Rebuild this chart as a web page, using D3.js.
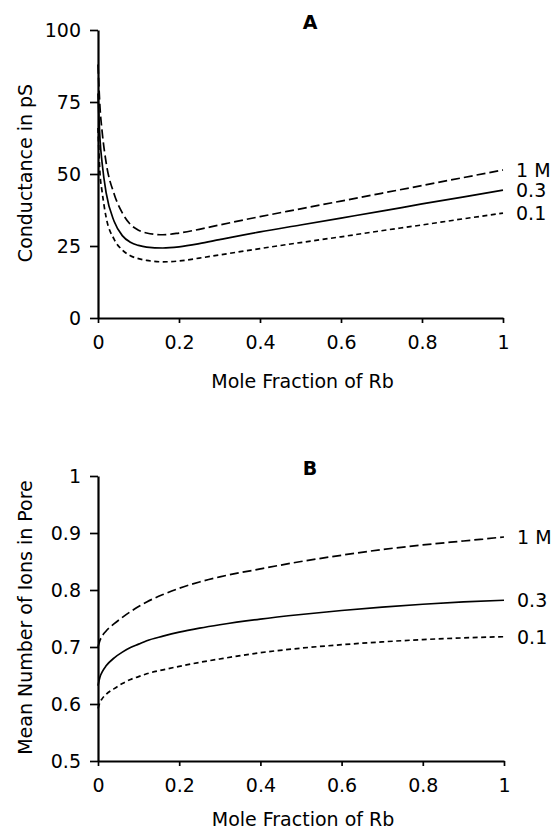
<!DOCTYPE html>
<html>
<head>
<meta charset="utf-8">
<script src="https://cdn.jsdelivr.net/npm/d3@7/dist/d3.min.js"></script>
<style>
  body { margin: 0; background: #fff; }
  svg { display: block; }
  text { font-family: 'DejaVu Sans', 'Liberation Sans', sans-serif; fill: #000; }
</style>
</head>
<body>
<svg id="chart" width="554" height="831"></svg>
<script>
// mole fraction of Rb, shared by both panels
var moleFraction = [0, 0.005, 0.01, 0.02, 0.04, 0.06, 0.08, 0.1, 0.12, 0.16, 0.2, 0.25, 0.3, 0.4, 0.5, 0.6, 0.7, 0.8, 0.9, 1];

// panel A: conductance (pS)
var condA_1M  = [88, 73, 65, 54, 43, 36.5, 32.5, 30.5, 29.5, 28.9, 29.5, 30.8, 32.3, 35.2, 37.9, 40.6, 43.3, 46.0, 48.7, 51.4];
var condA_03  = [78, 62, 54, 43.5, 33.5, 28.6, 26.3, 25.2, 24.6, 24.3, 24.7, 25.8, 27.2, 29.9, 32.3, 34.7, 37.1, 39.6, 42.0, 44.4];
var condA_01  = [66, 50, 44, 35, 27.3, 23.6, 21.6, 20.6, 20.0, 19.5, 19.8, 20.8, 21.9, 24.1, 26.2, 28.2, 30.3, 32.3, 34.4, 36.4];

// panel B: mean number of ions in pore
var ionsB_1M = [0.700, 0.712, 0.719, 0.728, 0.741, 0.752, 0.762, 0.771, 0.779, 0.792, 0.803, 0.814, 0.823, 0.837, 0.850, 0.861, 0.871, 0.879, 0.886, 0.893];
var ionsB_03 = [0.632, 0.648, 0.656, 0.667, 0.681, 0.691, 0.699, 0.705, 0.711, 0.719, 0.726, 0.733, 0.739, 0.749, 0.757, 0.764, 0.770, 0.775, 0.779, 0.782];
var ionsB_01 = [0.592, 0.603, 0.609, 0.617, 0.627, 0.636, 0.643, 0.648, 0.653, 0.660, 0.666, 0.673, 0.679, 0.690, 0.698, 0.704, 0.709, 0.713, 0.716, 0.718];

var seriesLabels = ['1 M', '0.3', '0.1'];
var xTicks = [0, 0.2, 0.4, 0.6, 0.8, 1];
var yTicksA = [0, 25, 50, 75, 100];
var yTicksB = [0.5, 0.6, 0.7, 0.8, 0.9, 1];

var dashes = ['9,4', null, '5,3.5'];
var fontSize = 19;

var svg = d3.select('#chart');

/*
 * draws one panel
 * @param {Object} p  {title, box:{left,right,top,bottom}, yDomain, yTicks, yLabel, series}
 */
function drawPanel(p){
    var x = d3.scaleLinear().domain([0, 1]).range([p.box.left, p.box.right]);
    var y = d3.scaleLinear().domain(p.yDomain).range([p.box.bottom, p.box.top]);
    var g = svg.append('g');

    var line = d3.line()
        .x(function(d){ return x(d[0]); })
        .y(function(d){ return y(d[1]); })
        .curve(d3.curveMonotoneX);

    p.series.forEach(function(vals, i){
        var pts = moleFraction.map(function(m, j){ return [m, vals[j]]; });
        g.append('path')
            .attr('d', line(pts))
            .attr('fill', 'none')
            .attr('stroke', '#000')
            .attr('stroke-width', 1.7)
            .attr('stroke-dasharray', dashes[i]);

        // concentration label at the end of the curve
        g.append('text')
            .attr('x', x(1) + 13)
            .attr('y', y(vals[vals.length - 1]))
            .attr('dy', '0.36em')
            .style('font-size', fontSize + 'px')
            .text(seriesLabels[i]);
    });

    var xAxis = g.append('g')
        .attr('transform', 'translate(0,' + p.box.bottom + ')')
        .call(d3.axisBottom(x).tickValues(xTicks).tickFormat(d3.format('')).tickSize(5).tickSizeOuter(0).tickPadding(13));
    var yAxis = g.append('g')
        .attr('transform', 'translate(' + p.box.left + ',0)')
        .call(d3.axisLeft(y).tickValues(p.yTicks).tickFormat(d3.format('')).tickSize(8).tickSizeOuter(0).tickPadding(9));

    [xAxis, yAxis].forEach(function(a){
        a.attr('font-family', null);
        a.select('.domain').attr('stroke-width', 2.2);
        a.selectAll('.tick line').attr('stroke-width', 1.7);
        a.selectAll('.tick text').style('font-size', fontSize + 'px');
    });

    // panel letter
    g.append('text')
        .attr('x', 310)
        .attr('y', p.box.top - 1)
        .attr('text-anchor', 'middle')
        .style('font-size', fontSize + 'px')
        .style('font-weight', 'bold')
        .text(p.title);

    g.append('text')
        .attr('x', (p.box.left + p.box.right) / 2 + 2)
        .attr('y', p.box.bottom + p.xTitleOffset)
        .attr('text-anchor', 'middle')
        .style('font-size', fontSize + 'px')
        .text('Mole Fraction of Rb');

    g.append('text')
        .attr('transform', 'translate(32,' + ((p.box.top + p.box.bottom) / 2 - 1) + ') rotate(-90)')
        .attr('text-anchor', 'middle')
        .style('font-size', fontSize + 'px')
        .text(p.yLabel);
}

drawPanel({
    title: 'A',
    box: {left: 98, right: 503, top: 30, bottom: 318},
    yDomain: [0, 100],
    yTicks: yTicksA,
    yLabel: 'Conductance in pS',
    series: [condA_1M, condA_03, condA_01],
    xTitleOffset: 70
});

drawPanel({
    title: 'B',
    box: {left: 98, right: 504, top: 476, bottom: 761},
    yDomain: [0.5, 1],
    yTicks: yTicksB,
    yLabel: 'Mean Number of Ions in Pore',
    series: [ionsB_1M, ionsB_03, ionsB_01],
    xTitleOffset: 65
});
</script>
</body>
</html>
